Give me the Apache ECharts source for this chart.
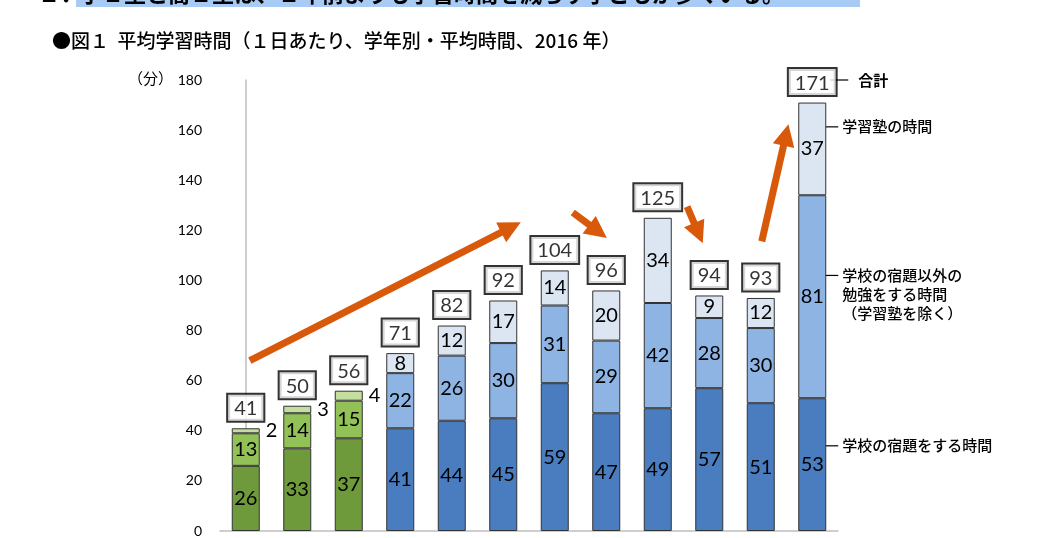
<!DOCTYPE html>
<html>
<head>
<meta charset="utf-8">
<script src="https://cdn.jsdelivr.net/npm/echarts@6/dist/echarts.min.js"></script>
<style>
html, body { margin: 0; padding: 0; background: #fff; }
#chart { width: 1064px; height: 538px; }
</style>
</head>
<body>
<div id="chart"></div>
<script>
const grades = ['小1', '小2', '小3', '小4', '小5', '小6', '中1', '中2', '中3', '高1', '高2', '高3'];
const homework = [26, 33, 37, 41, 44, 45, 59, 47, 49, 57, 51, 53];
const otherStudy = [13, 14, 15, 22, 26, 30, 31, 29, 42, 28, 30, 81];
const juku = [2, 3, 4, 8, 12, 17, 14, 20, 34, 9, 12, 37];
const totals = [41, 50, 56, 71, 82, 92, 104, 96, 125, 94, 93, 171];
const yTicks = [0, 20, 40, 60, 80, 100, 120, 140, 160, 180];

// arrows in data units: [grade index, minutes]
const arrows = [
    [[0.08, 68], [5.15, 121.2]],
    [[6.35, 127.1], [6.84, 119.6]],
    [[8.57, 129.5], [8.79, 118.9]],
    [[10.02, 115.6], [10.49, 158.1]]
];

// notes beside the last bar: [minutes, text]
const notes = [
    [161.3, '学習塾の時間'],
    [102, '学校の宿題以外の\n勉強をする時間\n（学習塾を除く）'],
    [34, '学校の宿題をする時間']
];

const greens = ['#6E9A3C', '#92C158', '#C4DEA0'];
const blues = ['#4A7DC0', '#8DB4E3', '#DCE6F2'];
const numFont = 'Lato, "Open Sans", sans-serif';
const jpFont = '"Noto Sans CJK JP", sans-serif';

const chart = echarts.init(document.getElementById('chart'));

function segData(values, level) {
    return values.map((v, i) => {
        const item = {
            value: v,
            itemStyle: {color: i < 3 ? greens[level] : blues[level]}
        };
        if (level === 2 && i < 3) {
            item.label = {position: 'right', distance: 6};
        }
        return item;
    });
}

function barSeries(name, values, level) {
    return {
        name: name,
        type: 'bar',
        stack: 'total',
        barWidth: 28,
        data: segData(values, level),
        itemStyle: {borderColor: '#333', borderWidth: 1},
        label: {
            show: true,
            position: 'inside',
            color: '#000',
            fontSize: 20,
            fontFamily: numFont
        }
    };
}

chart.setOption({
    animation: false,
    grid: {left: 220, right: 226, top: 80, bottom: 5},
    xAxis: [{
        type: 'category',
        data: grades,
        axisLine: {lineStyle: {color: '#BFBFBF', width: 1.5}},
        axisTick: {show: false},
        axisLabel: {show: false}
    }, {
        type: 'value',
        min: -0.5,
        max: 11.5,
        show: false
    }],
    yAxis: {
        type: 'value',
        min: yTicks[0],
        max: yTicks[yTicks.length - 1],
        interval: 20,
        splitLine: {show: false},
        axisTick: {show: false},
        axisLine: {show: true, lineStyle: {color: '#BFBFBF', width: 1.5}},
        axisLabel: {color: '#000', fontSize: 14, margin: 18, fontFamily: numFont}
    },
    series: [
        barSeries('学校の宿題をする時間', homework, 0),
        barSeries('学校の宿題以外の勉強をする時間', otherStudy, 1),
        barSeries('学習塾の時間', juku, 2),
        {
            name: '合計',
            type: 'scatter',
            symbolSize: 1,
            itemStyle: {color: 'rgba(0,0,0,0)'},
            data: totals.map((t, i) => [i, t]),
            label: {
                show: true,
                position: 'top',
                distance: 7,
                formatter: p => p.value[1],
                color: '#000',
                fontSize: 20,
                fontFamily: numFont,
                backgroundColor: '#fff',
                borderColor: '#000',
                borderWidth: 2,
                padding: [4, 6, 2, 6]
            }
        },
        {
            type: 'lines',
            coordinateSystem: 'cartesian2d',
            xAxisIndex: 1,
            yAxisIndex: 0,
            symbol: ['none', 'triangle'],
            symbolSize: 22,
            lineStyle: {color: '#D9590B', width: 7, opacity: 1},
            data: arrows.map(a => ({coords: a}))
        }
    ]
});

// annotations placed from data coordinates
const last = grades.length - 1;
const px = v => chart.convertToPixel({xAxisIndex: 1, yAxisIndex: 0}, [last, v]);
const graphics = [
    {type: 'rect', shape: {x: 76, y: 0, width: 784, height: 7}, style: {fill: '#A8CBF5'}},
    {type: 'text', x: 38, y: -17, style: {text: '１．', font: 'bold 22px ' + jpFont, fill: '#000'}},
    {type: 'text', x: 80, y: -17, style: {text: '小２生と高１生は、１年前よりも学習時間を減らす子どもが多くいる。', font: 'bold 22px ' + jpFont, fill: '#000'}},
    {type: 'text', x: 52, y: 31, style: {text: '●図１  平均学習時間（１日あたり、学年別・平均時間、2016 年）', font: '500 19px ' + jpFont, fill: '#000'}},
    {type: 'text', x: 128, y: 71, style: {text: '（分）', font: '15px ' + jpFont, fill: '#000'}}
];

const topPx = px(180);
graphics.push({type: 'line', shape: {x1: topPx[0] + 18, y1: topPx[1], x2: topPx[0] + 36, y2: topPx[1]}, style: {stroke: '#000', lineWidth: 1.2}});
graphics.push({type: 'text', x: topPx[0] + 46, y: topPx[1], style: {text: '合計', font: 'bold 15px ' + jpFont, fill: '#000', verticalAlign: 'middle'}});

notes.forEach(n => {
    const p = px(n[0]);
    graphics.push({type: 'line', shape: {x1: p[0] + 6, y1: p[1], x2: p[0] + 26, y2: p[1]}, style: {stroke: '#000', lineWidth: 1.2}});
    graphics.push({type: 'text', x: p[0] + 30, y: p[1] - 10, style: {text: n[1], font: '500 15px ' + jpFont, fill: '#000', lineHeight: 19}});
});

chart.setOption({graphic: graphics});
</script>
</body>
</html>
